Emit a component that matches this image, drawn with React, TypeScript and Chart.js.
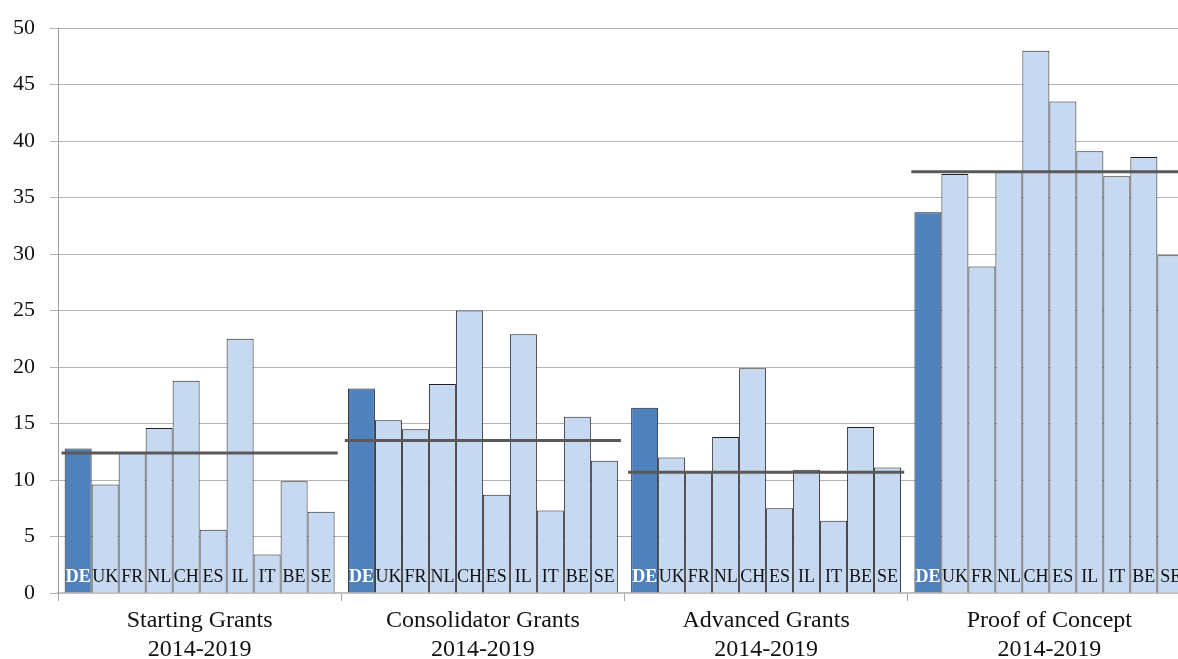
import React, { useEffect, useRef } from 'react';
import { Chart, registerables } from 'chart.js';

Chart.register(...registerables);

const countries = ['DE', 'UK', 'FR', 'NL', 'CH', 'ES', 'IL', 'IT', 'BE', 'SE'];
const programmes = [
  ['Starting Grants', '2014-2019'],
  ['Consolidator Grants', '2014-2019'],
  ['Advanced Grants', '2014-2019'],
  ['Proof of Concept', '2014-2019'],
];
const startingGrants = [12.8, 9.6, 12.4, 14.6, 18.8, 5.6, 22.5, 3.4, 9.9, 7.2];
const consolidatorGrants = [18.1, 15.3, 14.5, 18.5, 25.0, 8.7, 22.9, 7.3, 15.6, 11.7];
const advancedGrants = [16.4, 12.0, 10.7, 13.8, 19.9, 7.5, 10.9, 6.4, 14.7, 11.1];
const proofOfConcept = [33.7, 37.1, 28.9, 37.3, 48.0, 43.5, 39.1, 36.9, 38.6, 29.9];
const averages = [12.4, 13.5, 10.7, 37.3];

const SERIF = "'Liberation Serif', 'Times New Roman', serif";
const DARK_BLUE = '#4F81BD';
const LIGHT_BLUE = '#C6D9F1';

const averageLinePlugin = {
  id: 'averageLines',
  afterDatasetsDraw(chart: any) {
    const ctx = chart.ctx;
    const xs = chart.scales.x;
    const ys = chart.scales.y;
    const half = (xs.getPixelForValue(1) - xs.getPixelForValue(0)) / 2;
    ctx.save();
    ctx.strokeStyle = '#595959';
    ctx.lineWidth = 3;
    ctx.lineCap = 'butt';
    averages.forEach((v, i) => {
      const cx = xs.getPixelForValue(i);
      const y = ys.getPixelForValue(v);
      ctx.beginPath();
      ctx.moveTo(cx - half * 0.975, y);
      ctx.lineTo(cx + half * 0.975, y);
      ctx.stroke();
    });
    ctx.restore();
  },
};

const countryLabelPlugin = {
  id: 'countryLabels',
  afterDatasetsDraw(chart: any) {
    const ctx = chart.ctx;
    const y0 = chart.scales.y.getPixelForValue(0);
    chart.data.datasets.forEach((ds: any, di: number) => {
      const meta = chart.getDatasetMeta(di);
      const isDE = ds.label === 'DE';
      meta.data.forEach((el: any) => {
        ctx.save();
        ctx.font = `${isDE ? 'bold ' : ''}18px ${SERIF}`;
        ctx.fillStyle = isDE ? '#ffffff' : '#111111';
        ctx.textAlign = 'center';
        ctx.textBaseline = 'alphabetic';
        ctx.fillText(ds.label, el.x, y0 - 11);
        ctx.restore();
      });
    });
  },
};

export default function App() {
  const ref = useRef<HTMLCanvasElement | null>(null);

  useEffect(() => {
    if (!ref.current) return;
    const series = [startingGrants, consolidatorGrants, advancedGrants, proofOfConcept];
    const barSets = countries.map((c, ci) => ({
      label: c,
      data: series.map((s) => s[ci]),
      backgroundColor: c === 'DE' ? DARK_BLUE : LIGHT_BLUE,
      borderColor: '#1f1f1f',
      borderWidth: 1,
      categoryPercentage: 0.953,
      barPercentage: 1,
    }));

    const chart = new Chart(ref.current, {
      type: 'bar',
      data: {
        labels: programmes,
        datasets: barSets as any,
      },
      options: {
        animation: false,
        responsive: false,
        devicePixelRatio: 1,
        layout: { padding: { top: 25, left: 0, right: 0, bottom: 0 } },
        plugins: { legend: { display: false }, tooltip: { enabled: false } },
        scales: {
          x: {
            type: 'category',
            offset: true,
            grid: {
              offset: true,
              drawOnChartArea: false,
              drawTicks: true,
              tickLength: 8,
              color: '#a6a6a6',
            },
            border: { display: true, color: '#c0c0c0', width: 2 },
            ticks: {
              color: '#111111',
              padding: 6,
              maxRotation: 0,
              autoSkip: false,
              font: { family: SERIF, size: 24, lineHeight: 1.18 },
            },
            afterFit(scale: any) {
              scale.height = 66;
            },
          },
          y: {
            min: 0,
            max: 50,
            ticks: {
              stepSize: 5,
              color: '#111111',
              padding: 15,
              font: { family: SERIF, size: 22 },
            },
            grid: {
              color: '#b3b3b3',
              lineWidth: 1,
              drawTicks: true,
              tickLength: 8,
            },
            border: { display: true, color: '#a0a0a0', width: 1 },
            afterFit(scale: any) {
              scale.width = 58;
            },
          },
        },
      },
      plugins: [averageLinePlugin, countryLabelPlugin],
    });
    return () => chart.destroy();
  }, []);

  return (
    <div
      style={{
        position: 'fixed',
        left: 0,
        top: 0,
        width: 1178,
        height: 659,
        overflow: 'hidden',
        background: '#ffffff',
      }}
    >
      <canvas ref={ref} width={1191} height={659} style={{ display: 'block', width: 1191, height: 659 }} />
    </div>
  );
}
